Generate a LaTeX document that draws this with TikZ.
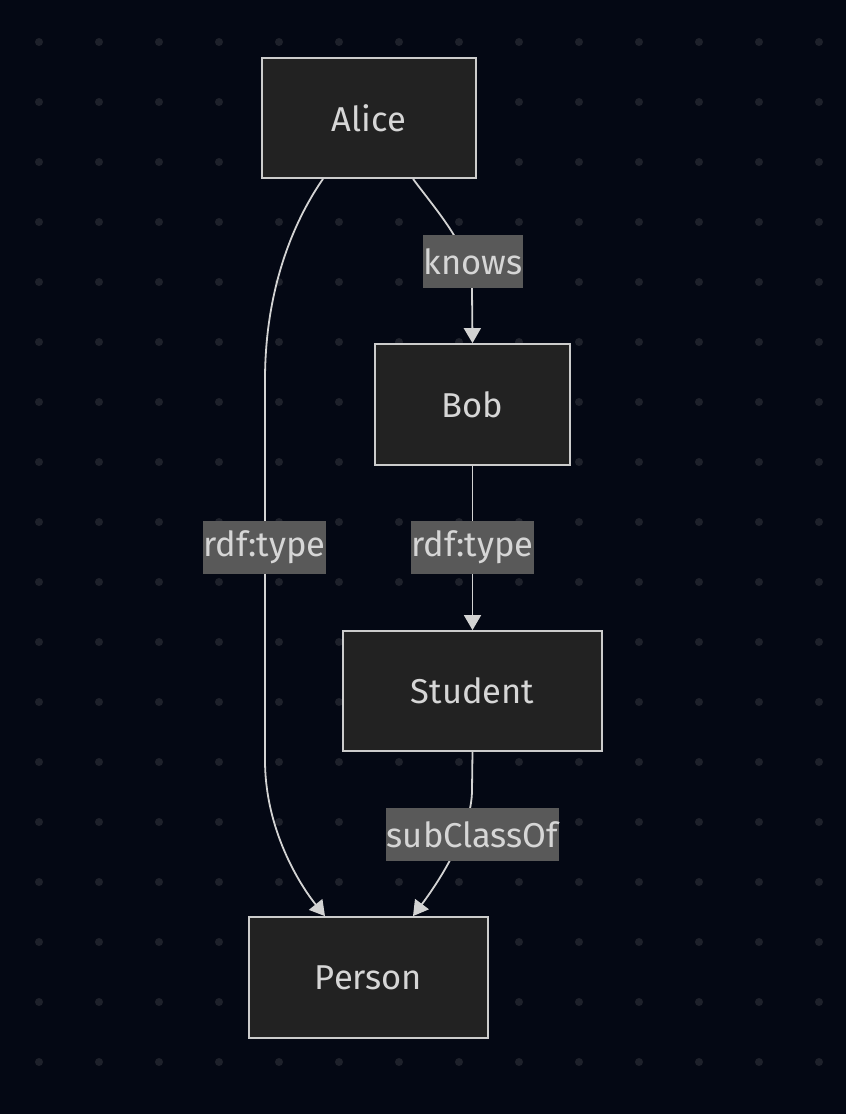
\documentclass[tikz,border=0pt]{standalone}
\usepackage{fontspec}
\setmainfont{Fira Sans}
\usetikzlibrary{arrows.meta}
\definecolor{bgc}{HTML}{040814}
\definecolor{dotc}{HTML}{1E212B}
\definecolor{nodefill}{HTML}{222222}
\definecolor{nodeline}{HTML}{CCCCCC}
\definecolor{txtc}{HTML}{D6D6D6}
\definecolor{lblfill}{HTML}{595959}
\definecolor{edgec}{HTML}{D3D3D3}
\tikzset{
  box/.style={draw=nodeline, fill=nodefill, line width=1.8pt, text=txtc,
    font=\fontsize{34.5}{40}\selectfont, inner sep=0pt},
  lbl/.style={fill=lblfill, text=txtc, font=\fontsize{34.5}{40}\selectfont,
    inner xsep=1pt, inner ysep=0pt, minimum height=53pt},
  edge/.style={draw=edgec, line width=1.8pt,
    -{Triangle[length=15pt,width=17pt]}},
}
\begin{document}
\begin{tikzpicture}[x=1pt,y=-1pt]
\fill[bgc] (0,0) rectangle (846,1114);
\useasboundingbox (0,0) rectangle (846,1114);
\foreach \i in {0,...,13} {
  \foreach \j in {0,...,17} {
    \fill[dotc] (39+60*\i,42+60*\j) circle (4);
  }
}
\node[box, minimum width=214pt, minimum height=120pt] (alice) at (369,118) {Alice};
\node[box, minimum width=195pt, minimum height=121pt] (bob) at (472.5,404.5) {Bob};
\node[box, minimum width=259pt, minimum height=120pt] (student) at (472.5,691) {Student};
\node[box, minimum width=239pt, minimum height=121pt] (person) at (368.5,977.5) {Person};

\coordinate (ap1) at (265,380);
\coordinate (ap2) at (265,760);
\coordinate (ab1) at (472,290);
\coordinate (sp1) at (472,790);

\draw[edge] ([xshift=-46pt]alice.south) .. controls (293,222) and (265,290) .. (ap1)
  -- (ap2) .. controls (265,830) and (300,885) .. ([xshift=-43.5pt]person.north);
\draw[edge] ([xshift=44pt]alice.south) .. controls (440,215) and (472,250) .. (ab1)
  -- (bob.north);
\draw[edge] (bob.south) -- (student.north);
\draw[edge] (student.south) -- (sp1) .. controls (472,830) and (440,880) .. ([xshift=44.5pt]person.north);

\node[lbl] (l1) at (473,261.5) {knows};
\node[lbl] (l2) at (264.5,547.5) {rdf:type};
\node[lbl] (l3) at (472.5,547.5) {rdf:type};
\node[lbl] (l4) at (472.5,834.5) {subClassOf};
\end{tikzpicture}
\end{document}
